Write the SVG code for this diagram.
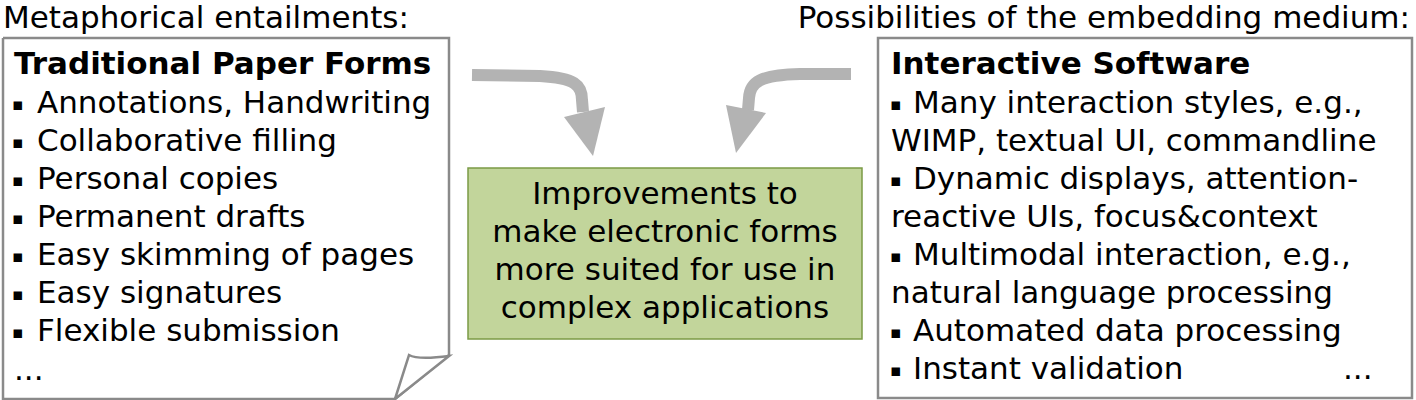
<svg xmlns="http://www.w3.org/2000/svg" width="1416" height="400" viewBox="0 0 1416 400">
<style>
text{font-family:"DejaVu Sans","Verdana",sans-serif;font-size:31px;fill:#000}
.b{font-weight:bold}
.bu{font-size:17px}
.box{fill:#fff;stroke:#8a8a8a;stroke-width:2.5}
.arr{fill:none;stroke:#b3b3b3;stroke-width:12}
.head{fill:#b3b3b3}
</style>
<rect width="1416" height="400" fill="#fff"/>
<text x="3" y="28">Metaphorical entailments:</text>
<text x="1410" y="28" text-anchor="end">Possibilities of the embedding medium:</text>
<g id="paper">
<path class="box" d="M3,38 H449 V355 M449,355 L395,399 H3 V38"/>
<path class="box" d="M395,399 L409,355 Q418,360 449,356 Z"/>
<text class="b" x="14" y="74">Traditional Paper Forms</text>
<text class="bu" x="12" y="110">▪</text><text x="37" y="113">Annotations, Handwriting</text>
<text class="bu" x="12" y="148">▪</text><text x="37" y="151">Collaborative filling</text>
<text class="bu" x="12" y="186">▪</text><text x="37" y="189">Personal copies</text>
<text class="bu" x="12" y="224">▪</text><text x="37" y="227">Permanent drafts</text>
<text class="bu" x="12" y="262">▪</text><text x="37" y="265">Easy skimming of pages</text>
<text class="bu" x="12" y="300">▪</text><text x="37" y="303">Easy signatures</text>
<text class="bu" x="12" y="338">▪</text><text x="37" y="341">Flexible submission</text>
<text x="14" y="380">...</text>
</g>
<g id="software">
<rect class="box" x="878" y="38" width="534" height="360"/>
<text class="b" x="891" y="74">Interactive Software</text>
<text class="bu" x="890" y="110">▪</text><text x="913" y="113">Many interaction styles, e.g.,</text>
<text x="891" y="151">WIMP, textual UI, commandline</text>
<text class="bu" x="890" y="186">▪</text><text x="913" y="189">Dynamic displays, attention-</text>
<text x="891" y="227">reactive UIs, focus&amp;context</text>
<text class="bu" x="890" y="262">▪</text><text x="913" y="265">Multimodal interaction, e.g.,</text>
<text x="891" y="303">natural language processing</text>
<text class="bu" x="890" y="338">▪</text><text x="913" y="341">Automated data processing</text>
<text class="bu" x="890" y="376">▪</text><text x="913" y="379">Instant validation</text>
<text x="1343" y="379">...</text>
</g>
<g id="improvements">
<rect x="468" y="168" width="394" height="171" fill="#c2d59b" stroke="#7b9a45" stroke-width="1.5"/>
<text x="665" y="204" text-anchor="middle">Improvements to</text>
<text x="665" y="242" text-anchor="middle">make electronic forms</text>
<text x="665" y="280" text-anchor="middle">more suited for use in</text>
<text x="665" y="318" text-anchor="middle">complex applications</text>
</g>
<g id="connectors">
<path class="arr" d="M472,75 L540,76 C575,78 582,85 582,100 L583,112"/>
<polygon class="head" points="564,117 605,107 593,156"/>
<path class="arr" d="M851,74 L800,74 C760,75 750,82 749,98 L748,110"/>
<polygon class="head" points="726,105 766,113 736,153"/>
</g>
</svg>
